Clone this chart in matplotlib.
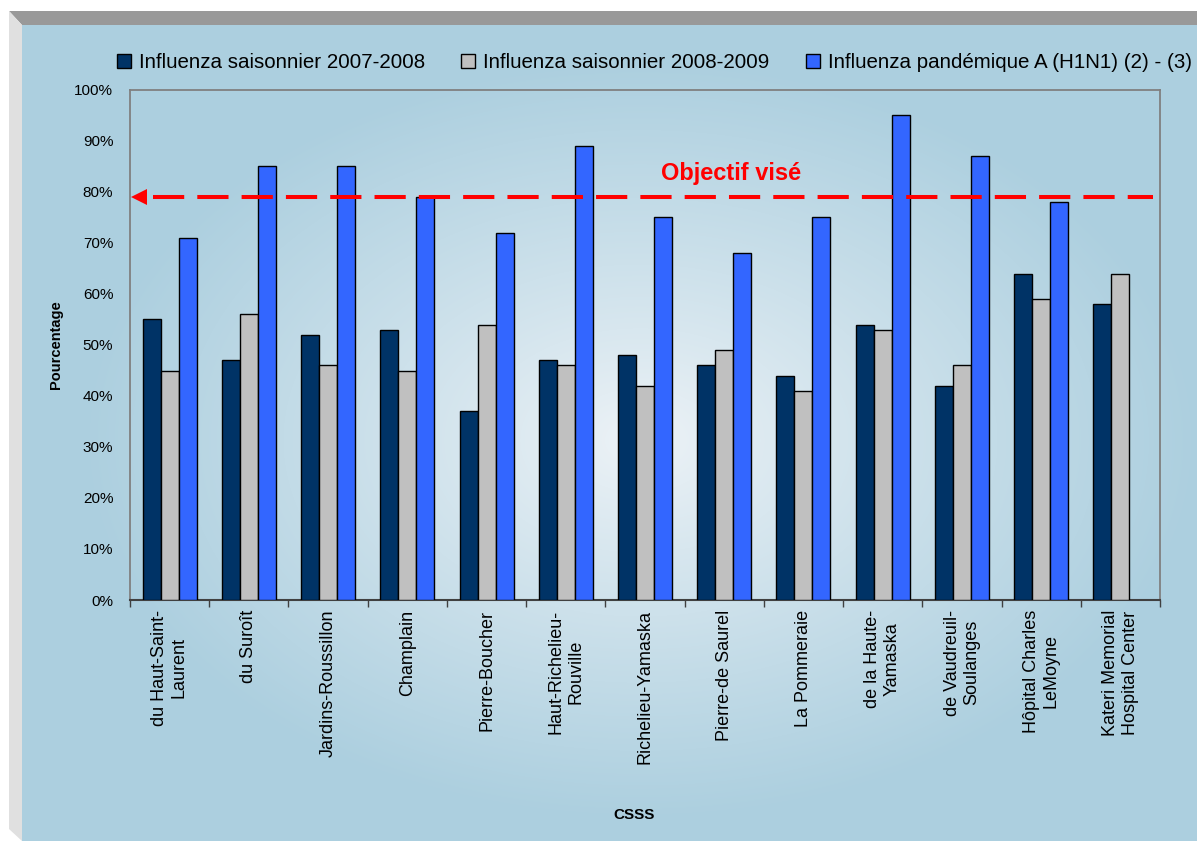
import numpy as np
import matplotlib
matplotlib.use("Agg")
import matplotlib.pyplot as plt
from matplotlib.patches import Polygon

# vaccination coverage per CSSS (%)
csss = ["du Haut-Saint-\nLaurent", "du Suroît", "Jardins-Roussillon", "Champlain",
        "Pierre-Boucher", "Haut-Richelieu-\nRouville", "Richelieu-Yamaska",
        "Pierre-de Saurel", "La Pommeraie", "de la Haute-\nYamaska",
        "de Vaudreuil-\nSoulanges", "Hôpital Charles\nLeMoyne",
        "Kateri Memorial\nHospital Center"]
saison_0708 = [55, 47, 52, 53, 37, 47, 48, 46, 44, 54, 42, 64, 58]
saison_0809 = [45, 56, 46, 45, 54, 46, 42, 49, 41, 53, 46, 59, 64]
pandemique = [71, 85, 85, 79, 72, 89, 75, 68, 75, 95, 87, 78, np.nan]
series_names = ["Influenza saisonnier 2007-2008", "Influenza saisonnier 2008-2009",
                "Influenza pandémique A (H1N1) (2) - (3)"]
series_colors = ["#003366", "#c0c0c0", "#3366ff"]
objectif = 79

plt.rcParams["font.family"] = ["Liberation Sans", "DejaVu Sans"]

W, H = 1197, 841
fig = plt.figure(figsize=(W / 100, H / 100), dpi=100, facecolor="white")

# frame: grey top bevel, light left side, blue radial gradient panel
frame = fig.add_axes([0, 0, 1, 1], zorder=-5)
frame.set_xlim(0, W)
frame.set_ylim(H, 0)
frame.axis("off")
frame.add_patch(Polygon([(9, 11), (W, 11), (W, 25), (22, 25)], closed=True,
                        facecolor="#999999", edgecolor="none"))
frame.add_patch(Polygon([(9, 11), (22, 25), (22, H), (9, H - 12)], closed=True,
                        facecolor="#e0e0e0", edgecolor="none"))
gx, gy = np.meshgrid(np.arange(22, W), np.arange(25, H))
d = np.sqrt(((gx - 640) / 560.0) ** 2 + ((gy - 440) / 380.0) ** 2)
t = np.clip(d, 0, 1) ** 0.9
edge = np.array([172, 207, 223]) / 255.0
center = np.array([238, 243, 247]) / 255.0
grad = center[None, None, :] * (1 - t[..., None]) + edge[None, None, :] * t[..., None]
frame.imshow(grad, extent=(22, W, H, 25), aspect="auto", interpolation="bilinear")

ax = fig.add_axes([130 / W, 1 - 600 / H, 1030 / W, 510 / H])
ax.set_facecolor("none")

x = np.arange(len(csss))
w = 0.227
for i, (vals, name, col) in enumerate(zip([saison_0708, saison_0809, pandemique],
                                          series_names, series_colors)):
    ax.bar(x + (i - 1) * w, vals, width=w, color=col, edgecolor="black",
           linewidth=1.0, label=name, zorder=3)

# target line with arrow head on the y axis
ax.plot([-0.21, 12.41], [objectif, objectif], color="#ff0000", lw=2.9,
        dashes=(7.75, 3.25), zorder=4, solid_capstyle="butt")
ax.plot([-0.39], [objectif], marker="<", markersize=11, color="#ff0000",
        markeredgewidth=0, zorder=4, clip_on=False)
ax.text(7.09, 82.4, "Objectif visé", color="#ff0000", fontsize=17,
        family=["Liberation Sans Narrow", "Liberation Sans"], fontweight="bold",
        ha="center", va="baseline", zorder=5)

ax.set_xlim(-0.5, len(csss) - 0.5)
ax.set_ylim(0, 100)
ax.set_yticks(np.arange(0, 101, 10))
ax.set_yticklabels([f"{v}%" for v in range(0, 101, 10)], fontsize=11)
ax.tick_params(axis="y", length=0, pad=12)
ax.set_xticks(x)
ax.set_xticklabels(csss, rotation=90, fontsize=13)
ax.set_xticks(np.arange(-0.5, len(csss)), minor=True)
ax.tick_params(axis="x", which="major", length=0, pad=7)
ax.tick_params(axis="x", which="minor", length=5, width=1, color="#404040")

for side in ["top", "right", "left"]:
    ax.spines[side].set_color("#808080")
    ax.spines[side].set_linewidth(1.3)
ax.spines["bottom"].set_color("#404040")
ax.spines["bottom"].set_linewidth(1.5)

ax.set_ylabel("Pourcentage", fontsize=10.5, fontweight="bold")
ax.yaxis.set_label_coords(-0.065, 0.5)
ax.set_xlabel("CSSS", fontsize=11, fontweight="bold")
ax.xaxis.set_label_coords(0.489, -0.408)

fig.legend(loc="upper left", bbox_to_anchor=(117 / W, 1 - 53 / H), ncol=3,
           frameon=False, fontsize=14.8, handlelength=0.68, handleheight=0.68,
           handletextpad=0.4, columnspacing=1.75, borderpad=0, borderaxespad=0)

fig.savefig("out.png", dpi=100, facecolor="white")
